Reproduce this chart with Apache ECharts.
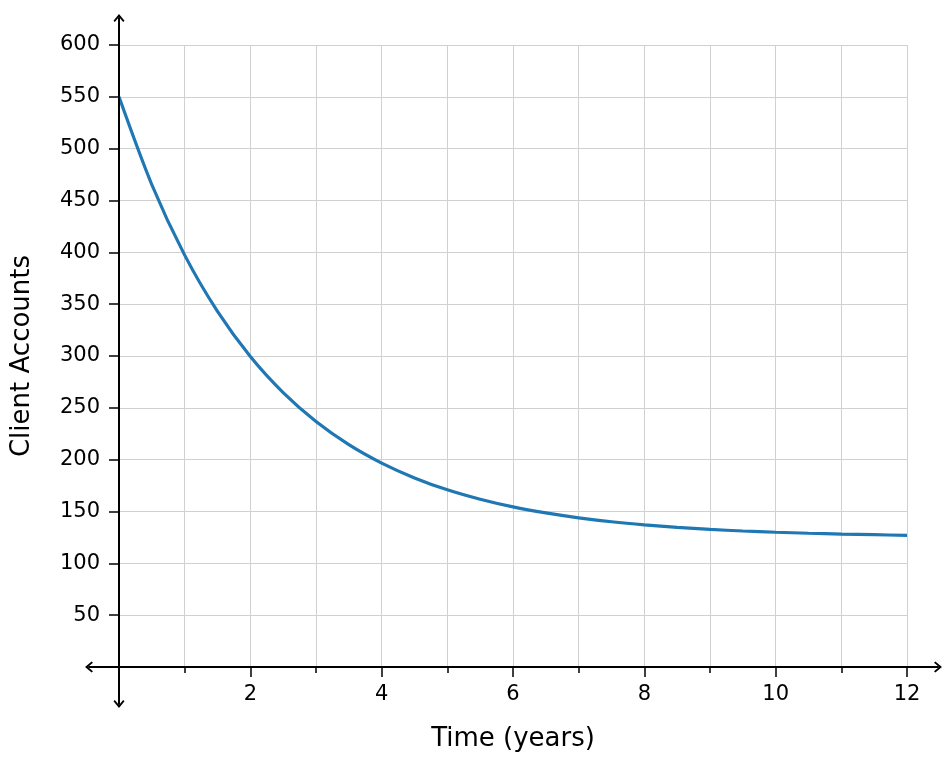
<!DOCTYPE html>
<html>
<head>
<meta charset="utf-8">
<title>Client Accounts over Time</title>
<script src="https://cdn.jsdelivr.net/npm/echarts@6/dist/echarts.min.js"></script>
<style>
  html, body { margin: 0; padding: 0; background: #fff; }
  #chart { width: 952px; height: 762px; }
</style>
</head>
<body>
<div id="chart"></div>
<script>
// values
const years = [0, 0.5, 1, 1.5, 2, 2.5, 3, 3.5, 4, 4.5, 5, 5.5, 6, 6.5, 7, 7.5, 8, 8.5, 9, 9.5, 10, 10.5, 11, 11.5, 12];
const accounts = [550, 465.2, 397.3, 343, 299.5, 264.7, 236.8, 214.5, 196.7, 182.4, 170.9, 161.8, 154.4, 148.6, 143.9, 140.1, 137.1, 134.7, 132.7, 131.2, 130, 129, 128.2, 127.6, 127];

const xTicks = [0, 12, 2];   // min, max, labelled step
const yTicks = [0, 600, 50]; // min, max, step

const FONT = 'DejaVu Sans';
// open arrow head, pointing up before echarts rotates it
const ARROW = 'path://M0,0 L5,6 L3.8,7.2 L0,2.6 L-3.8,7.2 L-5,6 Z';

const chart = echarts.init(document.getElementById('chart'));

const option = {
  animation: false,
  backgroundColor: '#fff',
  grid: [
    { left: 119, right: 45, top: 45, bottom: 95 },
    // wider box only used for the arrowed axis lines
    { left: 89, right: 14, top: 18, bottom: 58 }
  ],
  xAxis: [
    {
      type: 'value',
      gridIndex: 0,
      min: xTicks[0],
      max: xTicks[1],
      interval: xTicks[2],
      name: 'Time (years)',
      nameLocation: 'middle',
      nameGap: 59,
      nameTextStyle: { fontFamily: FONT, fontSize: 26, color: '#000' },
      axisLine: { show: true, onZero: false, lineStyle: { color: '#000', width: 2 } },
      axisTick: { show: true, inside: false, length: 10, lineStyle: { color: '#000', width: 1.5 } },
      minorTick: { show: true, splitNumber: 2, length: 6, lineStyle: { color: '#000', width: 1.5 } },
      axisLabel: {
        margin: 17,
        fontFamily: FONT, fontSize: 21, color: '#000',
        formatter: v => (v === 0 ? '' : String(v))
      },
      splitLine: { show: true, lineStyle: { color: '#d0d0d0', width: 1 } },
      minorSplitLine: { show: true, lineStyle: { color: '#d0d0d0', width: 1 } }
    },
    {
      type: 'value',
      gridIndex: 1,
      min: -30,
      max: 819,
      axisLine: {
        show: true, onZero: true,
        symbol: [ARROW, ARROW], symbolSize: [11, 8],
        lineStyle: { color: '#000', width: 2 }
      },
      axisTick: { show: false },
      axisLabel: { show: false },
      splitLine: { show: false },
      z: 5
    }
  ],
  yAxis: [
    {
      type: 'value',
      gridIndex: 0,
      min: yTicks[0],
      max: yTicks[1],
      interval: yTicks[2],
      name: 'Client Accounts',
      nameLocation: 'middle',
      nameGap: 84,
      nameTextStyle: { fontFamily: FONT, fontSize: 26, color: '#000' },
      axisLine: { show: true, onZero: false, lineStyle: { color: '#000', width: 2 } },
      axisTick: { show: true, inside: false, length: 10, lineStyle: { color: '#000', width: 1.5 } },
      axisLabel: {
        margin: 19,
        fontFamily: FONT, fontSize: 21, color: '#000',
        formatter: v => (v === 0 ? '' : String(v))
      },
      splitLine: { show: true, lineStyle: { color: '#d0d0d0', width: 1 } }
    },
    {
      type: 'value',
      gridIndex: 1,
      min: -37,
      max: 649,
      axisLine: {
        show: true, onZero: true,
        symbol: [ARROW, ARROW], symbolSize: [11, 8],
        lineStyle: { color: '#000', width: 2 }
      },
      axisTick: { show: false },
      axisLabel: { show: false },
      splitLine: { show: false },
      z: 5
    }
  ],
  series: [
    {
      name: 'Client Accounts',
      type: 'line',
      xAxisIndex: 0,
      yAxisIndex: 0,
      data: years.map((t, i) => [t, accounts[i]]),
      smooth: 0.3,
      showSymbol: false,
      lineStyle: { color: '#1f77b4', width: 3.2 },
      z: 3
    }
  ]
};

chart.setOption(option);
</script>
</body>
</html>
